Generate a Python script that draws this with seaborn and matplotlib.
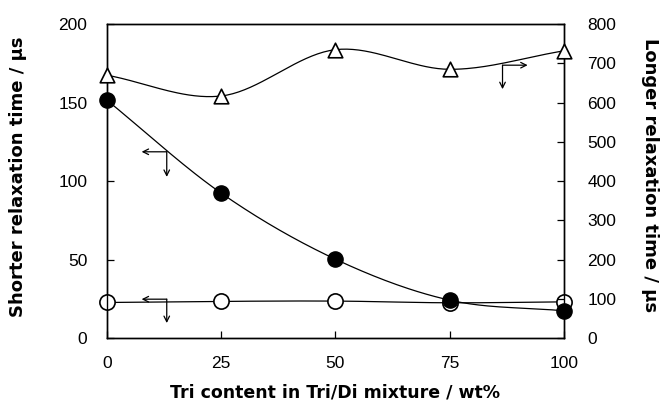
import numpy as np
import pandas as pd
import matplotlib
matplotlib.use("Agg")
import matplotlib.pyplot as plt
import seaborn as sns

# ============================================
# DATA
# ============================================
tri_content = [0, 25, 50, 75, 100]
shorter_filled = [151.6, 92.4, 50.3, 24.2, 17.4]     # left axis, filled circles
shorter_open = [22.7, 23.4, 23.6, 22.5, 23.1]        # left axis, open circles
longer_tri = [670, 617, 735, 685, 732]               # right axis, open triangles

x_ticks = [0, 25, 50, 75, 100]
left_ticks = [0, 50, 100, 150, 200]
right_ticks = [0, 100, 200, 300, 400, 500, 600, 700, 800]

# axis-pointer arrows: (corner x, corner y, horizontal end x, vertical end y)
left_arrows = [(13.1, 118.7, 7.6, 102.7), (13.1, 24.8, 7.6, 9.6)]
right_arrows = [(86.6, 695.5, 92.1, 634.4)]


def smooth(x, y, n=40):
    # Catmull-Rom curve through the points (like a spreadsheet "smoothed line")
    x = np.asarray(x, float)
    y = np.asarray(y, float)
    px = np.concatenate([[2 * x[0] - x[1]], x, [2 * x[-1] - x[-2]]])
    py = np.concatenate([[2 * y[0] - y[1]], y, [2 * y[-1] - y[-2]]])
    t = np.linspace(0, 1, n)
    xs, ys = [], []
    for i in range(1, len(px) - 2):
        for p, out in ((px, xs), (py, ys)):
            p0, p1, p2, p3 = p[i - 1], p[i], p[i + 1], p[i + 2]
            out.append(0.5 * (2 * p1 + (-p0 + p2) * t
                              + (2 * p0 - 5 * p1 + 4 * p2 - p3) * t ** 2
                              + (-p0 + 3 * p1 - 3 * p2 + p3) * t ** 3))
    return np.concatenate(xs), np.concatenate(ys)


df = pd.DataFrame({
    "tri": tri_content,
    "filled": shorter_filled,
    "open": shorter_open,
    "longer": longer_tri,
})

# ============================================
# PLOT
# ============================================
sns.set_style("ticks")
plt.rcParams["font.family"] = ["Liberation Sans", "DejaVu Sans"]
plt.rcParams.update({
    "text.color": "black",
    "axes.labelcolor": "black",
    "xtick.color": "black",
    "ytick.color": "black",
})

fig = plt.figure(figsize=(6.64, 4.03), dpi=100)
ax = fig.add_axes([0.161, 0.161, 0.688, 0.779])
ax2 = ax.twinx()

lw = 0.9
for col in ["filled", "open"]:
    sx, sy = smooth(df["tri"], df[col])
    ax.plot(sx, sy, color="black", lw=lw, zorder=2)
sx, sy = smooth(df["tri"], df["longer"])
ax2.plot(sx, sy, color="black", lw=lw, zorder=2)

# open circles first, filled circles drawn on top of them
sns.scatterplot(data=df, x="tri", y="open", ax=ax, s=120, marker="o",
                color="white", edgecolor="black", linewidth=1.2, zorder=3, clip_on=False)
sns.scatterplot(data=df, x="tri", y="filled", ax=ax, s=120, marker="o",
                color="black", edgecolor="black", linewidth=1, zorder=4, clip_on=False)
sns.scatterplot(data=df, x="tri", y="longer", ax=ax2, s=110, marker="^",
                color="white", edgecolor="black", linewidth=1.2, zorder=4, clip_on=False)

arrow_kw = dict(arrowstyle="->", color="black", lw=0.9, mutation_scale=10, shrinkA=0, shrinkB=0)
for cx, cy, hx, vy in left_arrows:
    ax.annotate("", xy=(hx, cy), xytext=(cx, cy), arrowprops=arrow_kw)
    ax.annotate("", xy=(cx, vy), xytext=(cx, cy), arrowprops=arrow_kw)
for cx, cy, hx, vy in right_arrows:
    ax2.annotate("", xy=(hx, cy), xytext=(cx, cy), arrowprops=arrow_kw)
    ax2.annotate("", xy=(cx, vy), xytext=(cx, cy), arrowprops=arrow_kw)

ax.set_xlim(0, 100)
ax.set_ylim(0, 200)
ax2.set_ylim(0, 800)
ax.set_xticks(x_ticks)
ax.set_yticks(left_ticks)
ax2.set_yticks(right_ticks)

ax.tick_params(axis="x", direction="in", length=5, width=0.9, pad=13, labelsize=12.5)
ax.tick_params(axis="y", direction="in", length=5, width=0.9, pad=14, labelsize=12.5)
ax2.tick_params(axis="y", direction="in", length=5, width=0.9, pad=17, labelsize=12.5)

for a in (ax, ax2):
    for sp in a.spines.values():
        sp.set_visible(True)
        sp.set_linewidth(1.0)
        sp.set_color("black")

label_font = dict(family="DejaVu Sans", fontweight="bold", color="black")
ax.set_xlabel("Tri content in Tri/Di mixture / wt%", fontsize=12.5, **label_font)
ax.set_ylabel("Shorter relaxation time / µs", fontsize=13, **label_font)
ax2.set_ylabel("Longer relaxation time / µs", fontsize=13, rotation=270, va="bottom", **label_font)
ax.xaxis.set_label_coords(0.5, -0.143)
ax.yaxis.set_label_coords(-0.175, 0.515)
ax2.yaxis.set_label_coords(1.17, 0.52)

plt.savefig("out.png", dpi=100)
